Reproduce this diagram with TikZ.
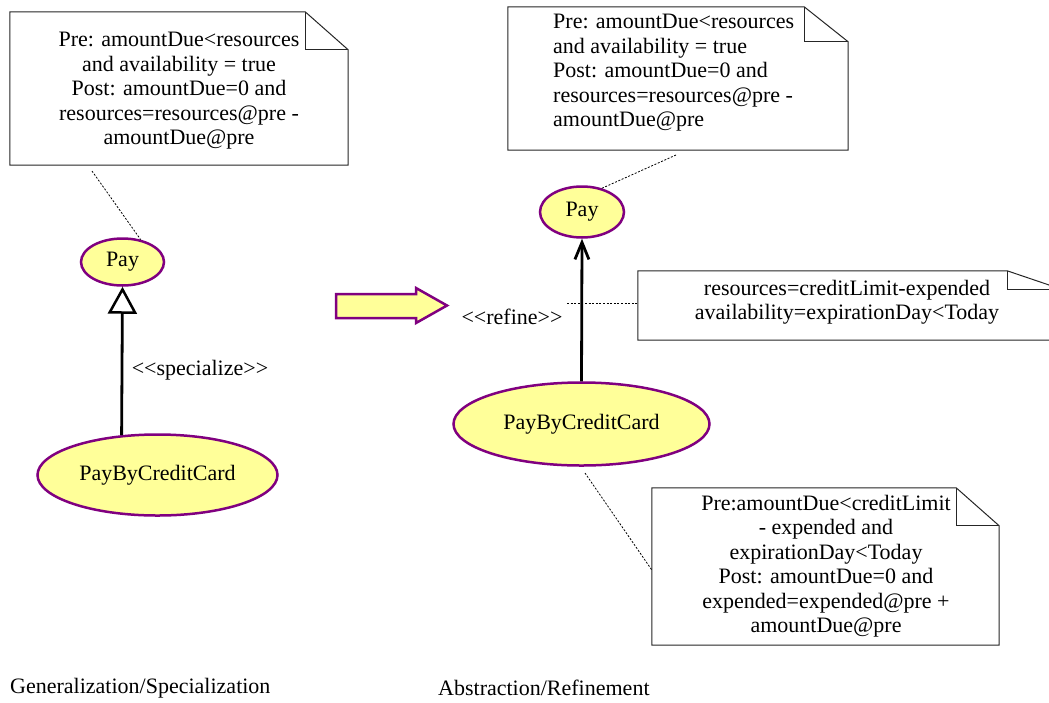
\documentclass[tikz,border=0pt]{standalone}
\usepackage{fontspec}
\setmainfont{Liberation Serif}
\usetikzlibrary{shapes.geometric,arrows.meta}
\definecolor{ucfill}{HTML}{FFFF99}
\definecolor{ucline}{HTML}{800080}
\begin{document}
\begin{tikzpicture}[x=1pt,y=-1pt,
  every node/.style={font=\fontsize{22}{24.5}\selectfont, inner sep=0pt},
  usecase/.style={ellipse, draw=ucline, fill=ucfill, line width=2.5pt},
  notearea/.style={rectangle, minimum width=#1},
  noteedge/.style={draw=black!85, line width=1pt, fill=white},
  notefold/.style={draw=black!85, line width=1pt},
  noteline/.style={draw=black, line width=0.8pt, dash pattern=on 2pt off 1.6pt},
  relation/.style={line width=2.8pt, draw=black}]

\clip (0,0) rectangle (1049,702);
\fill[white] (0,0) rectangle (1049,702);

% ---------- left: generalization ----------
\node[usecase, minimum width=83pt, minimum height=47pt] (pay1) at (122.5,262) {Pay};
\node[usecase, minimum width=240pt, minimum height=81pt] (pbc1) at (157.5,475) {PayByCreditCard};
\draw[relation, -{Triangle[open, length=27pt, width=29pt, line width=2.5pt]}] (pbc1.132) -- (pay1.south);
\node (spec) at (200,370) {<{}<specialize>{}>};

\node[notearea=338pt, minimum height=153pt] (n1) at (179,88.5) {};
\draw[noteedge] (n1.south west) -- (n1.north west) -- ([xshift=-43pt]n1.north east)
  -- ([yshift=-38pt]n1.north east) -- (n1.south east) -- cycle;
\draw[notefold] ([xshift=-43pt]n1.north east) |- ([yshift=-38pt]n1.north east);
\node[align=center] (t1) at (179,91) {Pre: amountDue<resources\\and availability = true\\Post: amountDue=0 and\\resources=resources@pre -\\amountDue@pre};
\coordinate (c1) at (92,171);
\draw[noteline] (c1) -- (pay1.51);

% ---------- transition arrow ----------
\draw[draw=ucline, fill=ucfill, line width=2.5pt, line join=miter]
  (336,294) -- (416,294) -- (416,288) -- (447,305.5) -- (416,323) -- (416,318) -- (336,318) -- cycle;

% ---------- right: refinement ----------
\node[usecase, minimum width=84pt, minimum height=51pt] (pay2) at (582,212) {Pay};
\node[usecase, minimum width=256pt, minimum height=83pt] (pbc2) at (581.5,424) {PayByCreditCard};
\draw[relation, -{Straight Barb[length=17pt, width=14pt]}] (pbc2.north) -- (pay2.south);
\node (refine) at (512,317) {<{}<refine>{}>};

\node[notearea=340pt, minimum height=143pt] (n2) at (678,78.5) {};
\draw[noteedge] (n2.south west) -- (n2.north west) -- ([xshift=-44pt]n2.north east)
  -- ([yshift=-35pt]n2.north east) -- (n2.south east) -- cycle;
\draw[notefold] ([xshift=-44pt]n2.north east) |- ([yshift=-35pt]n2.north east);
\node[align=left, anchor=west] (t2) at (553,73) {Pre: amountDue<resources\\and availability = true\\Post: amountDue=0 and\\resources=resources@pre -\\amountDue@pre};
\coordinate (c2) at (676,155);
\draw[noteline] (pay2.50) -- (c2);

\node[notearea=425pt, minimum height=69pt] (n3) at (850.5,305.5) {};
\draw[noteedge] (n3.south west) -- (n3.north west) -- ([xshift=-56pt]n3.north east)
  -- ([yshift=-19pt]n3.north east) -- (n3.south east) -- cycle;
\draw[notefold] ([xshift=-56pt]n3.north east) |- ([yshift=-19pt]n3.north east);
\node[align=center] (t3) at (847,302) {resources=creditLimit-expended\\availability=expirationDay<Today};
\coordinate (c3) at (567,303);
\draw[noteline] (c3) -- (c3 -| n3.west);

\node[notearea=347pt, minimum height=157pt] (n4) at (825.5,566.5) {};
\draw[noteedge] (n4.south west) -- (n4.north west) -- ([xshift=-43pt]n4.north east)
  -- ([yshift=-38pt]n4.north east) -- (n4.south east) -- cycle;
\draw[notefold] ([xshift=-43pt]n4.north east) |- ([yshift=-38pt]n4.north east);
\node[align=center] (t4) at (826,566) {Pre:amountDue<creditLimit\\- expended and\\expirationDay<Today\\Post: amountDue=0 and\\expended=expended@pre +\\amountDue@pre};
\coordinate (c4) at (585,473);
\draw[noteline] (c4) -- ([yshift=-3.5pt]n4.west);

% ---------- captions ----------
\node[anchor=west] (cap1) at (10,688) {Generalization/Specialization};
\node[anchor=west] (cap2) at (438,688) {Abstraction/Refinement};
\end{tikzpicture}
\end{document}
